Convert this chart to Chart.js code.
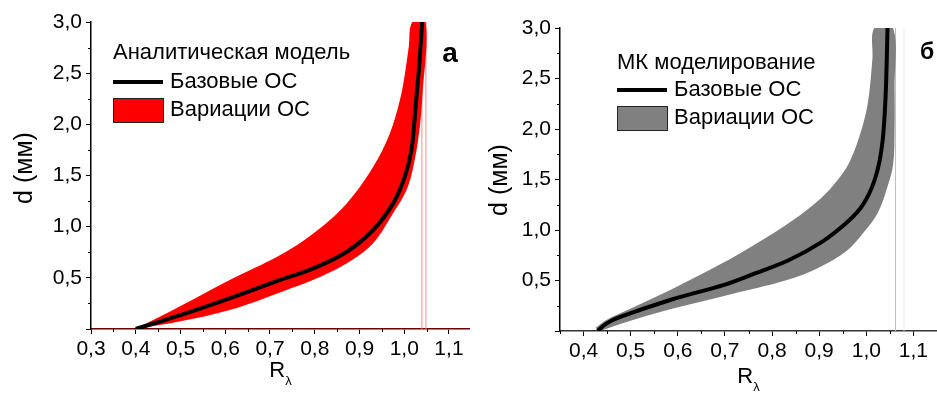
<!DOCTYPE html>
<html>
<head>
<meta charset="utf-8">
<script src="https://cdn.jsdelivr.net/npm/chart.js@4.4.0/dist/chart.umd.min.js"></script>
<style>
  html, body { margin: 0; padding: 0; background: #fff; }
  #wrap { position: relative; width: 937px; height: 394px; }
  .panel { position: absolute; top: 0; height: 394px; }
</style>
</head>
<body>
<div id="wrap">
  <div class="panel" style="left:0;width:470px"><canvas id="chartA"></canvas></div>
  <div class="panel" style="left:470px;width:467px"><canvas id="chartB"></canvas></div>
</div>
<script>
// --- панель а: аналитическая модель ---
const anBaseR = [0.40, 0.50, 0.61, 0.722, 0.796, 0.871, 0.93, 0.975, 1.001, 1.016, 1.023, 1.027, 1.034, 1.040];
const anBaseD = [0, 0.136, 0.30, 0.478, 0.59, 0.753, 0.965, 1.225, 1.484, 1.745, 2.04, 2.25, 2.6, 3.0];
const anUpR = [0.40, 0.50, 0.61, 0.722, 0.796, 0.871, 0.93, 0.967, 0.99, 1.0, 1.01, 1.018];
const anUpD = [0, 0.224, 0.478, 0.72, 0.93, 1.225, 1.58, 1.9, 2.23, 2.45, 2.75, 3.0];
const anLowR = [0.40, 0.50, 0.61, 0.73, 0.796, 0.871, 0.93, 0.975, 1.005, 1.02, 1.033, 1.041, 1.048];
const anLowD = [0, 0.075, 0.185, 0.37, 0.478, 0.64, 0.835, 1.13, 1.355, 1.58, 1.91, 2.3, 3.0];
const anGuides = [1.0395, 1.0484];
const anTicksR = [0.3, 0.4, 0.5, 0.6, 0.7, 0.8, 0.9, 1.0, 1.1];

// --- панель б: МК моделирование ---
const mcBaseR = [0.43, 0.449, 0.478, 0.584, 0.70, 0.761, 0.835, 0.905, 0.955, 0.985, 1.005, 1.018, 1.028, 1.035, 1.039, 1.042, 1.045];
const mcBaseD = [0, 0.076, 0.14, 0.307, 0.46, 0.565, 0.70, 0.88, 1.06, 1.2, 1.35, 1.5, 1.68, 1.9, 2.15, 2.45, 3.0];
const mcUpR = [0.425, 0.445, 0.478, 0.584, 0.69, 0.761, 0.845, 0.905, 0.94, 0.962, 0.985, 1.003, 1.013, 1.017];
const mcUpD = [0.03, 0.1, 0.175, 0.406, 0.66, 0.85, 1.1, 1.32, 1.5, 1.65, 1.92, 2.25, 2.7, 3.0];
const mcLowR = [0.435, 0.478, 0.584, 0.70, 0.832, 0.903, 0.96, 0.995, 1.024, 1.045, 1.057, 1.06, 1.06, 1.057];
const mcLowD = [0, 0.07, 0.215, 0.35, 0.505, 0.637, 0.8, 0.98, 1.165, 1.43, 1.65, 2.0, 2.4, 3.0];
const mcGuides = [1.062, 1.08];
const mcTicksR = [0.4, 0.5, 0.6, 0.7, 0.8, 0.9, 1.0, 1.1];

const ticksD = [0, 0.5, 1.0, 1.5, 2.0, 2.5, 3.0];
const legendBase = 'Базовые ОС';
const legendVar = 'Вариации ОС';

const FONT = "Arial, 'Liberation Sans', sans-serif";

function pts(rs, ds) {
  return rs.map((r, i) => ({ x: r, y: ds[i] }));
}
function band(upR, upD, lowR, lowD) {
  return pts(upR, upD).concat(pts(lowR, lowD).reverse());
}
function fmt(v) {
  return v.toFixed(1).replace('.', ',');
}

const decor = {
  id: 'decor',
  afterDraw(chart, args, o) {
    const ctx = chart.ctx;
    const xs = chart.scales.x, ys = chart.scales.y;
    const a = chart.chartArea;
    ctx.save();
    // minor ticks (half-way between major ones)
    ctx.strokeStyle = '#000';
    ctx.lineWidth = 1;
    ctx.beginPath();
    for (let k = Math.ceil(xs.min * 20 - 1e-6); k <= Math.floor(xs.max * 20 + 1e-6); k++) {
      if (k % 2 === 0) continue;
      const px = Math.round(xs.getPixelForValue(k / 20)) + 0.5;
      if (px > a.right) continue;
      ctx.moveTo(px, a.bottom);
      ctx.lineTo(px, a.bottom + 3);
    }
    for (let k = 1; k < 12; k += 2) {
      const py = Math.round(ys.getPixelForValue(k / 4)) + 0.5;
      ctx.moveTo(a.left, py);
      ctx.lineTo(a.left - 3, py);
    }
    ctx.stroke();

    ctx.fillStyle = '#000';
    ctx.textBaseline = 'middle';
    // y title
    ctx.save();
    ctx.translate(o.yTitle[0], o.yTitle[1]);
    ctx.rotate(-Math.PI / 2);
    ctx.textAlign = 'center';
    ctx.font = '25px ' + FONT;
    ctx.fillText('d (мм)', 0, 0);
    ctx.restore();
    // x title R with subscript lambda
    ctx.textBaseline = 'alphabetic';
    ctx.textAlign = 'left';
    ctx.font = '22px ' + FONT;
    const wR = ctx.measureText('R').width;
    ctx.font = '13px ' + FONT;
    const wL = ctx.measureText('λ').width;
    const cx = (a.left + a.right) / 2;
    const x0 = cx - (wR + wL) / 2;
    ctx.font = '22px ' + FONT;
    ctx.fillText('R', x0, o.xTitleY);
    ctx.font = '13px ' + FONT;
    ctx.fillText('λ', x0 + wR, o.xTitleY + 8);
    // panel letter
    ctx.textAlign = 'center';
    ctx.textBaseline = 'middle';
    ctx.font = 'bold ' + o.letterSize + 'px ' + FONT;
    ctx.fillText(o.letter, o.letterPos[0], o.letterPos[1]);
    // legend
    const L = o.legend;
    ctx.textAlign = 'left';
    ctx.font = '22px ' + FONT;
    ctx.fillText(L.title, L.x, L.y0);
    ctx.fillText(legendBase, L.x + 57, L.y1);
    ctx.fillText(legendVar, L.x + 57, L.y2);
    ctx.strokeStyle = '#000';
    ctx.lineWidth = 4;
    ctx.beginPath();
    ctx.moveTo(L.x, L.y1);
    ctx.lineTo(L.x + 50, L.y1);
    ctx.stroke();
    ctx.fillStyle = L.color;
    ctx.fillRect(L.x, L.y2 - 12, 50, 24);
    ctx.strokeStyle = '#222';
    ctx.lineWidth = 1;
    ctx.strokeRect(L.x + 0.5, L.y2 - 12 + 0.5, 50, 24);
    ctx.restore();
  }
};

function makeChart(id, c) {
  const datasets = [
    {
      data: pts(c.baseR, c.baseD),
      borderColor: '#000',
      borderWidth: 4,
      pointRadius: 0,
      tension: 0.35,
      fill: false
    },
    {
      data: band(c.upR, c.upD, c.lowR, c.lowD),
      borderWidth: 0,
      borderColor: c.color,
      backgroundColor: c.color,
      pointRadius: 0,
      tension: 0.35,
      fill: 'shape'
    }
  ];
  c.guides.forEach((g, i) => {
    datasets.push({
      data: [{ x: g, y: 0 }, { x: g, y: 3 }],
      borderColor: c.guideColors[i],
      borderWidth: 1,
      pointRadius: 0,
      fill: false
    });
  });
  return new Chart(document.getElementById(id), {
    type: 'scatter',
    data: { datasets },
    options: {
      responsive: true,
      maintainAspectRatio: false,
      animation: false,
      showLine: true,
      layout: { padding: { top: c.top, left: 0, right: 0, bottom: 0 } },
      plugins: {
        legend: { display: false },
        tooltip: { enabled: false },
        decor: c.decor
      },
      scales: {
        x: {
          type: 'linear',
          bounds: 'data',
          min: c.xMin,
          max: c.xMax,
          border: { color: c.xAxisColor, width: 1.5 },
          grid: { drawOnChartArea: false, color: '#000', tickLength: 5 },
          ticks: {
            color: '#000',
            padding: 3,
            maxRotation: 0,
            autoSkip: false,
            font: { family: FONT, size: 21 },
            callback: v => fmt(v)
          },
          afterBuildTicks: s => { s.ticks = c.ticksR.map(v => ({ value: v })); },
          afterFit: s => { s.height = c.xHeight; }
        },
        y: {
          type: 'linear',
          bounds: 'data',
          min: 0,
          max: 3,
          border: { color: '#000', width: 1.5 },
          grid: { drawOnChartArea: false, color: '#000', tickLength: 5 },
          ticks: {
            color: '#000',
            padding: 4,
            font: { family: FONT, size: 21 },
            callback: v => (v === 0 ? '' : fmt(v))
          },
          afterBuildTicks: s => { s.ticks = ticksD.map(v => ({ value: v })); },
          afterFit: s => { s.width = c.yWidth; }
        }
      }
    },
    plugins: [decor]
  });
}

makeChart('chartA', {
  baseR: anBaseR, baseD: anBaseD,
  upR: anUpR, upD: anUpD, lowR: anLowR, lowD: anLowD,
  guides: anGuides, guideColors: ['#ff8a8a', '#ff8a8a'],
  ticksR: anTicksR,
  color: '#ff0000',
  xMin: 0.3, xMax: 1.147,
  xAxisColor: '#6a0000',
  top: 22, xHeight: 65, yWidth: 91,
  decor: {
    yTitle: [25, 168], xTitleY: 377,
    letter: 'а', letterSize: 28, letterPos: [450, 54],
    legend: { title: 'Аналитическая модель', x: 113, y0: 53, y1: 82, y2: 110, color: '#ff0000' }
  }
});

makeChart('chartB', {
  baseR: mcBaseR, baseD: mcBaseD,
  upR: mcUpR, upD: mcUpD, lowR: mcLowR, lowD: mcLowD,
  guides: mcGuides, guideColors: ['#bdbdbd', '#eeeeee'],
  ticksR: mcTicksR,
  color: '#808080',
  xMin: 0.35, xMax: 1.15,
  xAxisColor: '#333',
  top: 28, xHeight: 63, yWidth: 90,
  decor: {
    yTitle: [30, 180], xTitleY: 383,
    letter: 'б', letterSize: 23, letterPos: [457, 53],
    legend: { title: 'МК моделирование', x: 147, y0: 63, y1: 90, y2: 118, color: '#808080' }
  }
});
</script>
</body>
</html>
